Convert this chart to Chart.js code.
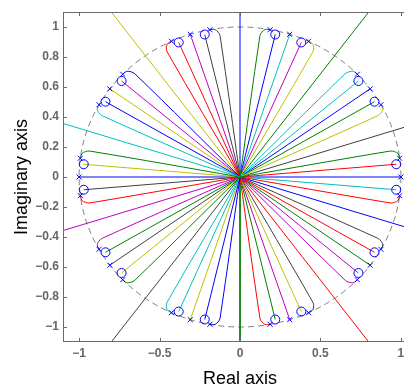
<!DOCTYPE html>
<html>
<head>
<meta charset="utf-8">
<script src="https://cdn.jsdelivr.net/npm/chart.js@4.4.1/dist/chart.umd.min.js"></script>
<style>
  html, body { margin: 0; padding: 0; background: #fff; overflow: hidden; }
  canvas { display: block; }
</style>
</head>
<body>
<canvas id="rlocus" width="432" height="390"></canvas>
<script>
'use strict';

// colour letters used for the branches
const palette = {
  b: '#0000ff',
  g: '#008000',
  r: '#ff0000',
  c: '#00bfbf',
  m: '#bf00bf',
  y: '#bfbf00',
  k: '#404040',
};

const xTicks = [-1, -0.5, 0, 0.5, 1];
const xTickLabels = ['\u22121', '\u22120.5', '0', '0.5', '1'];
const yTicks = [-1, -0.8, -0.6, -0.4, -0.2, 0, 0.2, 0.4, 0.6, 0.8, 1];
const yTickLabels = ['\u22121', '\u22120.8', '\u22120.6', '\u22120.4', '\u22120.2', '0', '0.2', '0.4', '0.6', '0.8', '1'];

const origin = [0, 0];
const unitRadius = 1;

// poles whose branch runs straight into the origin
const straightPoles = [
  [1, 0], [0.809, 0.588], [0.309, 0.951], [-0.309, 0.951], [-0.809, 0.588],
  [-1, 0], [-0.809, -0.588], [-0.309, -0.951], [0.309, -0.951], [0.809, -0.588],
];
const straightPoleColors = ['b', 'b', 'c', 'm', 'y', 'b', 'k', 'y', 'm', 'g'];

// zeros, each joined to the origin by a straight branch
const zeros = [
  [0.971, 0.085], [0.971, -0.085], [0.736, 0.64], [0.836, 0.502], [0.219, 0.95],
  [0.381, 0.897], [-0.381, 0.897], [-0.219, 0.95], [-0.836, 0.502], [-0.736, 0.64],
  [-0.971, -0.085], [-0.971, 0.085], [-0.736, -0.64], [-0.836, -0.502], [-0.219, -0.95],
  [-0.381, -0.897], [0.381, -0.897], [0.219, -0.95], [0.836, -0.502], [0.736, -0.64],
];
const zeroColors = ['r', 'c', 'c', 'g', 'b', 'm', 'r', 'k', 'b', 'm',
                    'k', 'y', 'y', 'g', 'b', 'c', 'y', 'g', 'r', 'm'];

// poles whose branch hooks round first: pole, then points along the bend
const hookedBranches = [
  [[0.992, 0.125], [0.983, 0.156], [0.96, 0.169], [0.934, 0.173]],
  [[0.992, -0.125], [0.983, -0.156], [0.96, -0.169], [0.934, -0.173]],
  [[0.729, 0.685], [0.704, 0.704], [0.677, 0.701], [0.654, 0.689]],
  [[0.876, 0.482], [0.887, 0.452], [0.876, 0.427], [0.857, 0.409]],
  [[0.187, 0.982], [0.156, 0.983], [0.136, 0.966], [0.124, 0.942]],
  [[0.426, 0.905], [0.452, 0.887], [0.458, 0.861], [0.453, 0.835]],
  [[-0.426, 0.905], [-0.452, 0.887], [-0.458, 0.861], [-0.453, 0.835]],
  [[-0.187, 0.982], [-0.156, 0.983], [-0.136, 0.966], [-0.124, 0.942]],
  [[-0.876, 0.482], [-0.887, 0.452], [-0.876, 0.427], [-0.857, 0.409]],
  [[-0.729, 0.685], [-0.704, 0.704], [-0.677, 0.701], [-0.654, 0.689]],
  [[-0.992, -0.125], [-0.983, -0.156], [-0.96, -0.169], [-0.934, -0.173]],
  [[-0.992, 0.125], [-0.983, 0.156], [-0.96, 0.169], [-0.934, 0.173]],
  [[-0.729, -0.685], [-0.704, -0.704], [-0.677, -0.701], [-0.654, -0.689]],
  [[-0.876, -0.482], [-0.887, -0.452], [-0.876, -0.427], [-0.857, -0.409]],
  [[-0.187, -0.982], [-0.156, -0.983], [-0.136, -0.966], [-0.124, -0.942]],
  [[-0.426, -0.905], [-0.452, -0.887], [-0.458, -0.861], [-0.453, -0.835]],
  [[0.426, -0.905], [0.452, -0.887], [0.458, -0.861], [0.453, -0.835]],
  [[0.187, -0.982], [0.156, -0.983], [0.136, -0.966], [0.124, -0.942]],
  [[0.876, -0.482], [0.887, -0.452], [0.876, -0.427], [0.857, -0.409]],
  [[0.729, -0.685], [0.704, -0.704], [0.677, -0.701], [0.654, -0.689]],
];
const hookedColors = ['g', 'r', 'c', 'y', 'g', 'y', 'r', 'k', 'c', 'b',
                      'r', 'g', 'g', 'm', 'b', 'c', 'k', 'r', 'k', 'm'];

// branches leaving the origin towards infinity, given where they meet the frame
const asymptoteEnds = [
  [1.1, 0.357], [0.8, 1.1], [0, 1.1], [-0.8, 1.1], [-1.1, 0.357],
  [-1.1, -0.357], [-0.8, -1.1], [0, -1.1], [0.8, -1.1], [1.1, -0.357],
];
const asymptoteColors = ['k', 'g', 'b', 'y', 'c', 'm', 'k', 'g', 'r', 'b'];

const fontFamily = '"Liberation Sans", Arial, Helvetica, sans-serif';
const axisColor = '#6a6a6a';

function toXY(p) {
  return { x: p[0], y: p[1] };
}

function branch(points, color, tension) {
  return {
    data: points.map(toXY),
    showLine: true,
    borderColor: palette[color],
    borderWidth: 1,
    pointRadius: 0,
    tension: tension,
  };
}

function buildDatasets() {
  const sets = [];
  // markers first so they sit above every branch
  sets.push({
    data: straightPoles.concat(hookedBranches.map(h => h[0])).map(toXY),
    pointStyle: 'crossRot',
    pointRadius: 3.5,
    borderColor: '#0000ff',
    borderWidth: 1,
    showLine: false,
  });
  sets.push({
    data: zeros.map(toXY),
    pointStyle: 'circle',
    pointRadius: 4.5,
    borderColor: '#0000ff',
    backgroundColor: 'rgba(0,0,0,0)',
    borderWidth: 1,
    showLine: false,
  });
  hookedBranches.forEach((h, i) => sets.push(branch(h.concat([origin]), hookedColors[i], 0.35)));
  zeros.forEach((z, i) => sets.push(branch([z, origin], zeroColors[i], 0)));
  straightPoles.forEach((p, i) => sets.push(branch([p, origin], straightPoleColors[i], 0)));
  asymptoteEnds.forEach((e, i) => sets.push(branch([origin, e], asymptoteColors[i], 0)));
  return sets;
}

// dashed unit circle under the branches, box with inward ticks on top
const framePlugin = {
  id: 'frame',
  beforeDatasetsDraw(chart) {
    const { ctx, chartArea: a, scales } = chart;
    const cx = scales.x.getPixelForValue(0);
    const cy = scales.y.getPixelForValue(0);
    const rx = scales.x.getPixelForValue(unitRadius) - cx;
    const ry = cy - scales.y.getPixelForValue(unitRadius);
    ctx.save();
    ctx.beginPath();
    ctx.rect(a.left, a.top, a.right - a.left, a.bottom - a.top);
    ctx.clip();
    ctx.setLineDash([6, 4]);
    ctx.strokeStyle = '#808080';
    ctx.lineWidth = 1;
    ctx.beginPath();
    ctx.ellipse(cx, cy, rx, ry, 0, 0, Math.PI * 2);
    ctx.stroke();
    ctx.restore();
  },
  afterDraw(chart) {
    const { ctx, chartArea: a, scales } = chart;
    const len = 4;
    ctx.save();
    ctx.strokeStyle = axisColor;
    ctx.lineWidth = 1;
    ctx.strokeRect(a.left + 0.5, a.top + 0.5, a.right - a.left - 1, a.bottom - a.top - 1);
    ctx.beginPath();
    xTicks.forEach(v => {
      const px = Math.round(scales.x.getPixelForValue(v)) + 0.5;
      ctx.moveTo(px, a.bottom);
      ctx.lineTo(px, a.bottom - len);
      ctx.moveTo(px, a.top);
      ctx.lineTo(px, a.top + len);
    });
    yTicks.forEach(v => {
      const py = Math.round(scales.y.getPixelForValue(v)) + 0.5;
      ctx.moveTo(a.left, py);
      ctx.lineTo(a.left + len, py);
      ctx.moveTo(a.right, py);
      ctx.lineTo(a.right - len, py);
    });
    ctx.stroke();
    ctx.restore();
  },
};

const tickFont = { family: fontFamily, size: 12, weight: 'bold' };
const titleFont = { family: fontFamily, size: 18 };

new Chart(document.getElementById('rlocus'), {
  type: 'scatter',
  data: { datasets: buildDatasets() },
  options: {
    responsive: false,
    animation: false,
    devicePixelRatio: 1,
    events: [],
    layout: { padding: { top: 12, right: 15, bottom: 0, left: 0 } },
    plugins: {
      legend: { display: false },
      tooltip: { enabled: false },
    },
    scales: {
      x: {
        type: 'linear',
        min: -1.1,
        max: 1.1,
        grid: { display: false, drawTicks: false },
        border: { display: false },
        afterBuildTicks: s => { s.ticks = xTicks.map(v => ({ value: v })); },
        afterFit: s => { s.height = 48; },
        ticks: {
          autoSkip: false,
          maxRotation: 0,
          padding: 4,
          color: '#666',
          font: tickFont,
          callback: (v, i) => xTickLabels[i],
        },
        title: { display: true, text: 'Real axis', color: '#000', font: titleFont, padding: 0 },
      },
      y: {
        type: 'linear',
        min: -1.1,
        max: 1.1,
        grid: { display: false, drawTicks: false },
        border: { display: false },
        afterBuildTicks: s => { s.ticks = yTicks.map(v => ({ value: v })); },
        afterFit: s => { s.width = 63; },
        ticks: {
          autoSkip: false,
          padding: 4,
          color: '#666',
          font: tickFont,
          callback: (v, i) => yTickLabels[i],
        },
        title: { display: true, text: 'Imaginary axis', color: '#000', font: titleFont, padding: { top: 11, bottom: 0 } },
      },
    },
  },
  plugins: [framePlugin],
});
</script>
</body>
</html>
